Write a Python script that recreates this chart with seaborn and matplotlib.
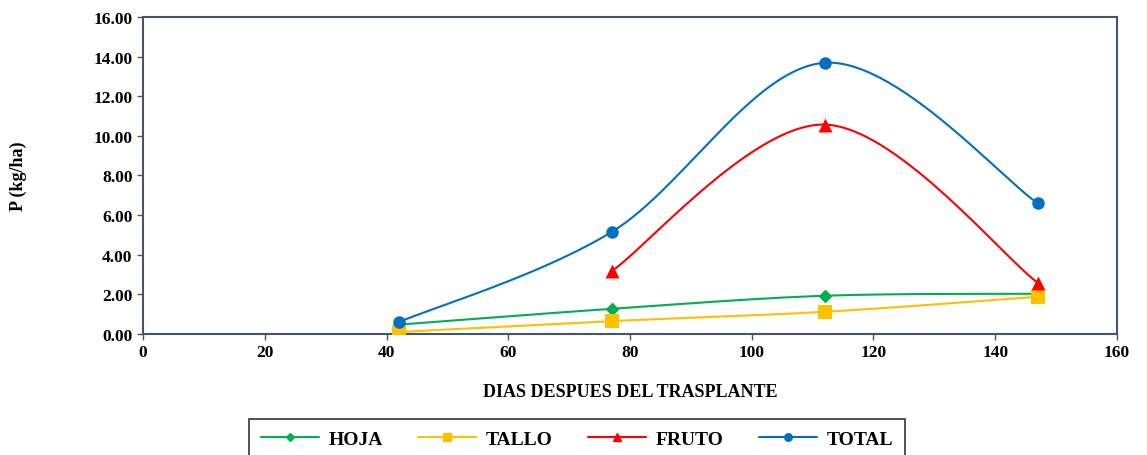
import numpy as np
import pandas as pd
import matplotlib
matplotlib.use("Agg")
import matplotlib.pyplot as plt
import seaborn as sns
from matplotlib.lines import Line2D

# datos
dias = [42, 77, 112, 147]
hoja = [0.47, 1.27, 1.93, 2.03]
tallo = [0.10, 0.65, 1.12, 1.88]
fruto_dias = [77, 112, 147]
fruto = [3.17, 10.57, 2.58]
total = [0.60, 5.15, 13.69, 6.60]

series = [
    ("HOJA", dias, hoja, "#00B050", "D", 7),
    ("TALLO", dias, tallo, "#FFC000", "s", 10),
    ("FRUTO", fruto_dias, fruto, "#FF0000", "^", 10),
    ("TOTAL", dias, total, "#0070C0", "o", 9),
]


def excel_smooth(x, y, n=60):
    # curva suavizada tipo Excel (Catmull-Rom como Bezier)
    x = np.asarray(x, float)
    y = np.asarray(y, float)
    px = np.concatenate([[x[0]], x, [x[-1]]])
    py = np.concatenate([[y[0]], y, [y[-1]]])
    xs, ys = [], []
    t = np.linspace(0, 1, n)
    for i in range(1, len(px) - 2):
        p0 = np.array([px[i], py[i]])
        p3 = np.array([px[i + 1], py[i + 1]])
        c1 = p0 + (np.array([px[i + 1], py[i + 1]]) - np.array([px[i - 1], py[i - 1]])) / 6
        c2 = p3 - (np.array([px[i + 2], py[i + 2]]) - np.array([px[i], py[i]])) / 6
        b = ((1 - t) ** 3)[:, None] * p0 + (3 * (1 - t) ** 2 * t)[:, None] * c1 \
            + (3 * (1 - t) * t ** 2)[:, None] * c2 + (t ** 3)[:, None] * p3
        xs.extend(b[:, 0])
        ys.extend(b[:, 1])
    return np.array(xs), np.array(ys)


sns.set_style("ticks")
plt.rcParams["font.family"] = ["Liberation Serif", "DejaVu Serif"]
plt.rcParams["font.weight"] = "bold"
plt.rcParams["text.color"] = "black"
plt.rcParams["axes.labelcolor"] = "black"
plt.rcParams["xtick.color"] = "black"
plt.rcParams["ytick.color"] = "black"

fig = plt.figure(figsize=(11.47, 4.56), dpi=100)
ax = fig.add_axes([0.1247, 0.2654, 0.8491, 0.6951])

handles = []
for name, xv, yv, color, mk, ms in series:
    sx, sy = excel_smooth(xv, yv)
    curve = pd.DataFrame({"x": sx, "y": sy})
    sns.lineplot(data=curve, x="x", y="y", sort=False, color=color, lw=1.5,
                 estimator=None, ax=ax, legend=False)
    pts = pd.DataFrame({"x": xv, "y": yv})
    sns.scatterplot(data=pts, x="x", y="y", marker=mk, s=ms ** 2, color=color,
                    edgecolor=color, linewidth=0, ax=ax, zorder=5, legend=False)
    handles.append(Line2D([0], [0], color=color, lw=1.5, marker=mk,
                          markersize=ms * 0.6, label=name))

ax.set_xlim(0, 160)
ax.set_ylim(0, 16)
ax.set_xticks(np.arange(0, 161, 20))
ax.set_yticks(np.arange(0, 16.1, 2))
ax.set_yticklabels([f"{v:.2f}" for v in np.arange(0, 16.1, 2)])
ax.tick_params(labelsize=12.5, length=4, width=1, direction="out")
ax.tick_params(color="#44546A")
for lab in ax.get_xticklabels() + ax.get_yticklabels():
    lab.set_fontweight("bold")

for sp in ax.spines.values():
    sp.set_visible(True)
    sp.set_color("#44546A")
    sp.set_linewidth(1.5)

ax.set_xlabel("DIAS DESPUES DEL TRASPLANTE", fontsize=13, fontweight="bold", labelpad=16)
ax.set_ylabel("P (kg/ha)", fontsize=13, fontweight="bold", labelpad=48)

leg = fig.legend(handles=handles, loc="upper center", bbox_to_anchor=(0.503, 0.08),
                 ncol=4, frameon=True, fancybox=False, edgecolor="black",
                 prop={"size": 14, "weight": "bold"}, handlelength=3.0,
                 handletextpad=0.5, columnspacing=1.8, borderpad=0.6,
                 borderaxespad=0)
leg.get_frame().set_linewidth(1.2)

fig.savefig("out.png", dpi=100)
